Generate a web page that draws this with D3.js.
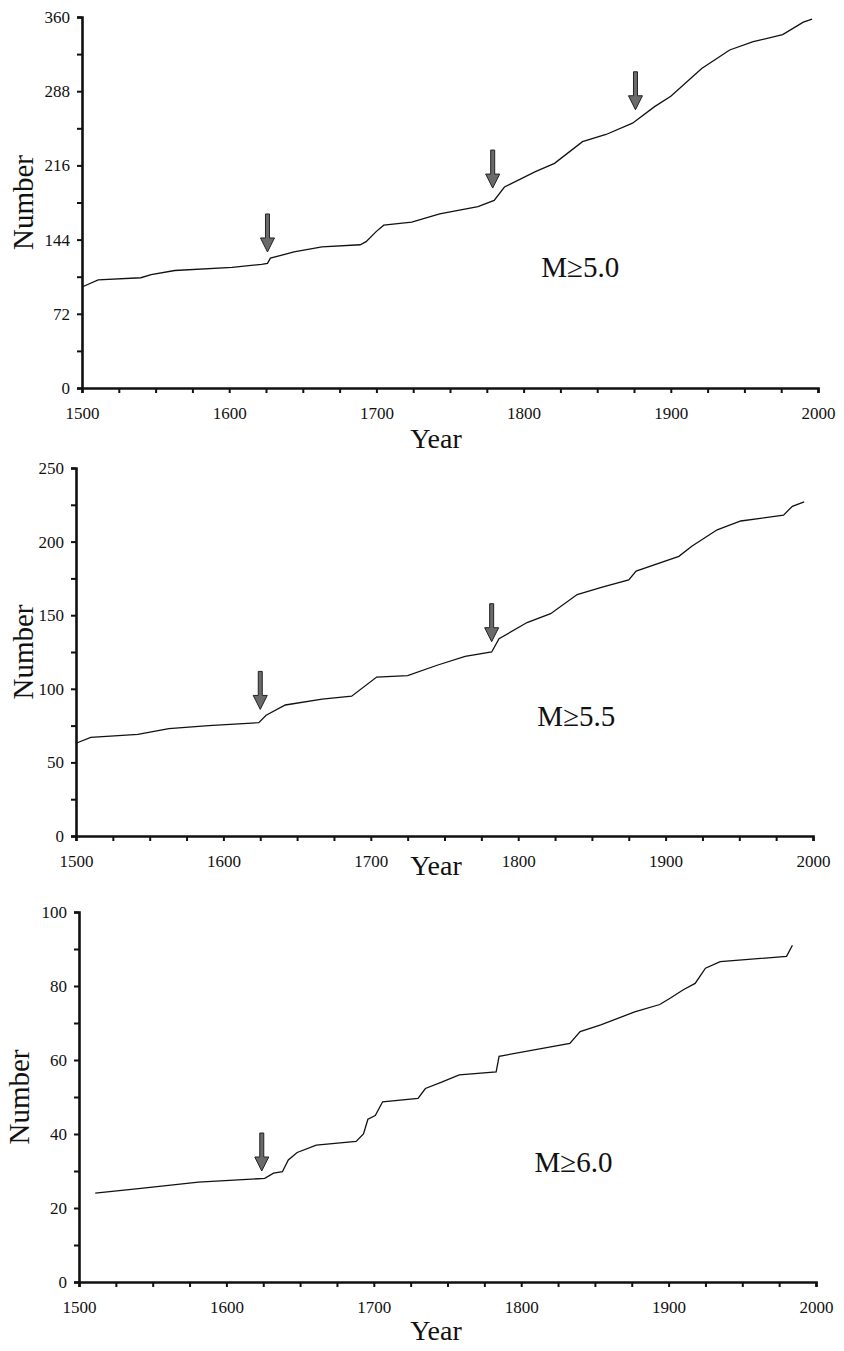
<!DOCTYPE html>
<html>
<head>
<meta charset="utf-8">
<script src="https://cdn.jsdelivr.net/npm/d3@7"></script>
<style>
  body { margin: 0; background: #fff; }
  svg { display: block; }
  text { font-family: "Liberation Serif", "Times New Roman", serif; fill: #111; }
</style>
</head>
<body>
<svg id="chart"></svg>
<script>
// cumulative number of events
const years1 = [1500, 1511, 1540, 1547, 1563, 1602, 1622, 1626, 1628, 1644, 1663, 1689, 1693, 1700, 1705, 1724, 1743, 1769, 1780, 1787, 1808, 1821, 1840, 1856, 1874, 1889, 1900, 1921, 1940, 1956, 1976, 1990, 1996];
const counts1 = [98, 105, 107, 110, 114, 117, 120, 121, 126, 132, 137, 139, 142, 152, 158, 161, 169, 176, 182, 195, 210, 218, 239, 246, 257, 273, 283, 310, 328, 336, 343, 355, 358];

const years2 = [1500, 1510, 1542, 1563, 1590, 1624, 1629, 1642, 1667, 1687, 1704, 1725, 1745, 1764, 1782, 1787, 1806, 1822, 1840, 1857, 1875, 1880, 1909, 1918, 1935, 1951, 1980, 1986, 1994];
const counts2 = [63, 67, 69, 73, 75, 77, 82, 89, 93, 95, 108, 109, 116, 122, 125, 134, 145, 151, 164, 169, 174, 180, 190, 197, 208, 214, 218, 224, 227];

const years3 = [1511, 1542, 1581, 1626, 1632, 1638, 1642, 1648, 1661, 1688, 1693, 1696, 1701, 1706, 1730, 1735, 1746, 1758, 1783, 1785, 1833, 1840, 1854, 1877, 1894, 1901, 1910, 1918, 1925, 1935, 1980, 1984];
const counts3 = [24, 25.3, 27, 28, 29.4, 29.8, 33, 35, 37, 38, 40, 44, 45, 48.7, 49.6, 52.3, 54, 56, 56.8, 61, 64.5, 67.7, 69.5, 73, 75, 76.7, 79, 80.7, 84.8, 86.6, 88, 91];

// y axis setup per panel
const yMax = [360, 250, 100];
const yStep = [36, 25, 10];
const yLabelStep = [72, 50, 20];
const xTickYears = d3.range(1500, 2001, 25);
const xLabelYears = [1500, 1600, 1700, 1800, 1900, 2000];

// arrows (year, value at the arrow tip)
const arrowYears = [[1626, 1779, 1876], [1625, 1782], [1624]];
const arrowTips = [[132, 194, 270], [86, 132], [30]];

const magLabels = ["M\u22655.0", "M\u22655.5", "M\u22656.0"];
const magYear = [1812, 1813, 1809];
const magValue = [108, 75, 29.7];

const WIDTH = 844;
const HEIGHT = 1351;

// pixel frame of each panel: x of 1500, x of 2000, y of top, y of 0
const frames = [
  {x0: 82, x1: 818, top: 17, bottom: 388, yearDy: 60, numX: 33},
  {x0: 76, x1: 813, top: 468, bottom: 836, yearDy: 39, numX: 33},
  {x0: 79, x1: 816, top: 912, bottom: 1282, yearDy: 58, numX: 29}
];

const svg = d3.select('#chart').attr('width', WIDTH).attr('height', HEIGHT);

const allYears = [years1, years2, years3];
const allCounts = [counts1, counts2, counts3];

frames.forEach(function(f, i) {
  const g = svg.append('g');
  const x = d3.scaleLinear().domain([1500, 2000]).range([f.x0, f.x1]);
  const y = d3.scaleLinear().domain([0, yMax[i]]).range([f.bottom, f.top]);

  // x axis
  const xAxis = d3.axisBottom(x).tickValues(xTickYears).tickSize(5)
    .tickFormat(d => xLabelYears.includes(d) ? d : '');
  const xg = g.append('g').attr('transform', `translate(0,${f.bottom})`).call(xAxis)
    .attr('font-family', null).attr('font-size', 17);
  xg.select('.domain').attr('stroke', '#111').attr('stroke-width', 2.6);
  xg.selectAll('.tick line').attr('stroke', '#111').attr('stroke-width', 2);
  xg.selectAll('.tick text').attr('dy', null).attr('y', 31).attr('fill', '#111');

  // y axis
  const yAxis = d3.axisLeft(y).tickValues(d3.range(0, yMax[i] + 0.1, yStep[i])).tickSize(5)
    .tickFormat(d => d % yLabelStep[i] === 0 ? d : '');
  const yg = g.append('g').attr('transform', `translate(${f.x0},0)`).call(yAxis)
    .attr('font-family', null).attr('font-size', 17);
  yg.select('.domain').attr('stroke', '#111').attr('stroke-width', 2.6);
  yg.selectAll('.tick line').attr('stroke', '#111').attr('stroke-width', 2);
  yg.selectAll('.tick text').attr('x', -12).attr('fill', '#111');

  // cumulative curve
  const pts = allYears[i].map((yr, k) => [yr, allCounts[i][k]]);
  g.append('path')
    .datum(pts)
    .attr('d', d3.line().x(d => x(d[0])).y(d => y(d[1])))
    .attr('fill', 'none')
    .attr('stroke', '#111')
    .attr('stroke-width', 1.3);

  // arrows
  arrowYears[i].forEach(function(yr, k) {
    const ax = x(yr);
    const ay = y(arrowTips[i][k]);
    const p = `M${ax - 2},${ay - 38} L${ax + 2},${ay - 38} L${ax + 2},${ay - 14} L${ax + 7},${ay - 14} L${ax},${ay} L${ax - 7},${ay - 14} L${ax - 2},${ay - 14} Z`;
    g.append('path').attr('d', p)
      .attr('fill', '#6a6a6a').attr('stroke', '#222').attr('stroke-width', 1);
  });

  // magnitude label
  g.append('text')
    .attr('x', x(magYear[i])).attr('y', y(magValue[i]))
    .style('font-size', '29px')
    .text(magLabels[i]);

  // axis titles
  g.append('text')
    .attr('x', 436).attr('y', f.bottom + f.yearDy)
    .attr('text-anchor', 'middle')
    .style('font-size', '28px')
    .text('Year');

  g.append('text')
    .attr('transform', `translate(${f.numX},${(f.top + f.bottom) / 2}) rotate(-90)`)
    .attr('text-anchor', 'middle')
    .style('font-size', '29px')
    .text('Number');
});
</script>
</body>
</html>
